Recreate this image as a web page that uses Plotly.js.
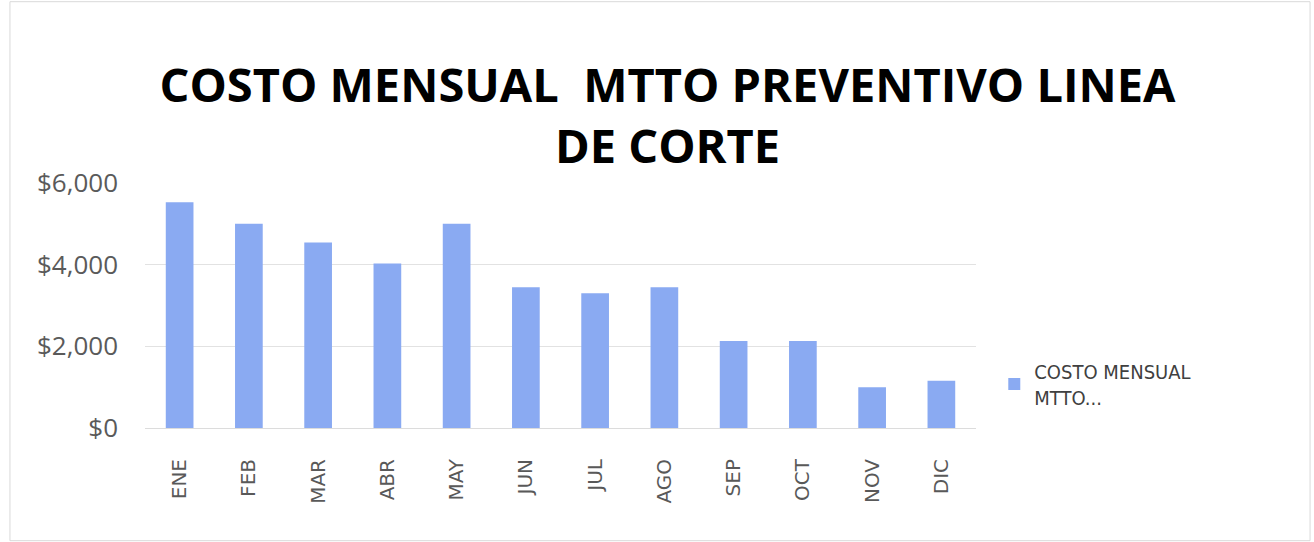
<!DOCTYPE html>
<html>
<head>
<meta charset="utf-8">
<script src="https://cdn.plot.ly/plotly-3.0.1.min.js"></script>
<style>html,body{margin:0;padding:0;background:#fff;}#chart{width:1314px;height:542px;}</style>
</head>
<body>
<div id="chart"></div>
<script>
const months = ["ENE","FEB","MAR","ABR","MAY","JUN","JUL","AGO","SEP","OCT","NOV","DIC"];
const costs = [5530, 5000, 4540, 4030, 5000, 3450, 3300, 3450, 2130, 2130, 1000, 1160];
const seriesName = "COSTO MENSUAL<br>MTTO...";
const yTicks = [0, 2000, 4000, 6000];
const yTickText = ["$0", "$2,000", "$4,000", "$6,000"];

const trace = {
  type: "bar",
  x: months,
  y: costs,
  name: seriesName,
  marker: {color: "#8aaaf2"},
  showlegend: true
};

const layout = {
  width: 1314, height: 542,
  paper_bgcolor: "#ffffff", plot_bgcolor: "#ffffff",
  margin: {l: 145, r: 338, t: 183, b: 114},
  bargap: 0.6,
  title: {
    text: "COSTO MENSUAL  MTTO PREVENTIVO LINEA<br>DE CORTE",
    font: {family: "Open Sans, sans-serif", size: 47, color: "#000000", weight: 700},
    x: 0.508, xanchor: "center", y: 0.812, yanchor: "middle"
  },
  xaxis: {
    type: "category",
    tickangle: -90,
    tickfont: {family: "DejaVu Sans, sans-serif", size: 20, color: "#595959"},
    ticklabelstandoff: 26,
    showgrid: false, zeroline: false, showline: false, ticks: ""
  },
  yaxis: {
    range: [0, 6000],
    tickvals: yTicks, ticktext: yTickText,
    tickfont: {family: "Open Sans, sans-serif", size: 26, color: "#5a5a5a"},
    ticklabelstandoff: 26,
    showgrid: true, gridcolor: "#e2e2e2", gridwidth: 1,
    zeroline: true, zerolinecolor: "#dcdcdc",
    showline: false, ticks: "", ticklen: 0
  },
  legend: {
    x: 1.022, xanchor: "left", y: 0.18, yanchor: "middle",
    font: {family: "DejaVu Sans Condensed, DejaVu Sans, sans-serif", size: 20, color: "#404040"},
    bgcolor: "rgba(0,0,0,0)"
  },
  shapes: [
    {type: "rect", xref: "paper", yref: "paper", x0: -0.1625, x1: 1.402, y0: -0.46, y1: 1.74,
     line: {color: "#d9d9d9", width: 1}, fillcolor: "rgba(0,0,0,0)", layer: "below"}
  ]
};

Plotly.newPlot("chart", [trace], layout, {displayModeBar: false, staticPlot: true});
</script>
</body>
</html>
